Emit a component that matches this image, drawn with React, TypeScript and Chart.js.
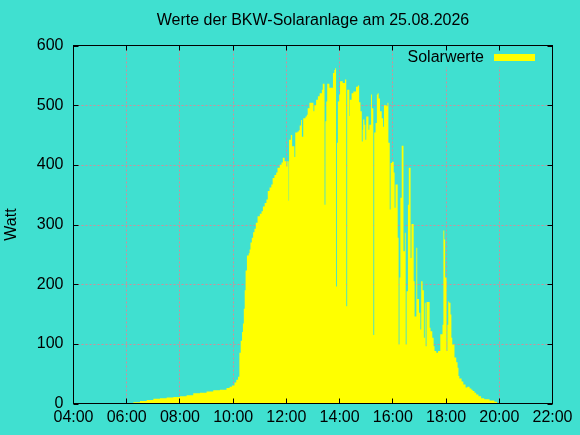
import React, { useEffect, useRef } from 'react';
import { Chart, registerables } from 'chart.js';

Chart.register(...registerables);

const TITLE = 'Werte der BKW-Solaranlage am 25.08.2026';
const SERIES_LABEL = 'Solarwerte';
const Y_AXIS_LABEL = 'Watt';
const X_TICK_LABELS = ['04:00', '06:00', '08:00', '10:00', '12:00', '14:00', '16:00', '18:00', '20:00', '22:00'];
const Y_TICK_LABELS = ['0', '100', '200', '300', '400', '500', '600'];

const TIMES = [
  '06:08', '06:15', '06:30', '06:45', '07:00', '07:15', '07:30', '07:45', '08:00', '08:15',
  '08:30', '08:45', '09:00', '09:15', '09:30', '09:45', '09:52', '09:57', '10:03', '10:07',
  '10:11', '10:14', '10:17', '10:20', '10:22', '10:24', '10:26', '10:28', '10:31', '10:35',
  '10:37', '10:39', '10:42', '10:45', '10:48', '10:51', '10:55', '11:00', '11:04', '11:07',
  '11:11', '11:15', '11:18', '11:22', '11:26', '11:29', '11:33', '11:37', '11:40', '11:45',
  '11:49', '11:52', '11:56', '12:00', '12:02', '12:05', '12:06', '12:10', '12:13', '12:18',
  '12:20', '12:25', '12:28', '12:30', '12:33', '12:35', '12:38', '12:43', '12:46', '12:48',
  '12:52', '13:01', '13:03', '13:07', '13:11', '13:15', '13:20', '13:22', '13:26', '13:28',
  '13:30', '13:32', '13:37', '13:45', '13:48', '13:50', '13:52', '13:54', '13:56', '13:59',
  '14:01', '14:07', '14:12', '14:15', '14:17', '14:22', '14:23', '14:27', '14:31', '14:37',
  '14:41', '14:44', '14:47', '14:50', '14:52', '14:53', '14:56', '14:58', '15:00', '15:05',
  '15:07', '15:11', '15:13', '15:16', '15:18', '15:21', '15:24', '15:26', '15:28', '15:31',
  '15:35', '15:38', '15:40', '15:46', '15:48', '15:50', '15:53', '15:55', '15:58', '16:02',
  '16:04', '16:06', '16:11', '16:13', '16:15', '16:17', '16:20', '16:24', '16:27', '16:29',
  '16:31', '16:34', '16:36', '16:40', '16:42', '16:47', '16:49', '16:53', '16:55', '16:59',
  '17:02', '17:04', '17:07', '17:10', '17:12', '17:14', '17:16', '17:23', '17:25', '17:29',
  '17:32', '17:34', '17:38', '17:42', '17:47', '17:52', '17:54', '17:56', '17:58', '18:01',
  '18:03', '18:05', '18:07', '18:10', '18:12', '18:14', '18:19', '18:23', '18:26', '18:28',
  '18:30', '18:35', '18:39', '18:44', '18:48', '18:53', '18:57', '19:00', '19:04', '19:08',
  '19:13', '19:19', '19:26', '19:38', '19:49', '19:55', '19:58',
];

const WATTS = [
  1, 2, 4, 6, 8, 9, 10, 11, 12, 14,
  17, 18, 20, 22, 23, 26, 28, 30, 35, 40,
  45, 85, 105, 120, 134, 159, 190, 223, 248, 252,
  258, 270, 278, 287, 293, 303, 314, 318, 322, 330,
  336, 342, 356, 362, 367, 378, 383, 387, 395, 400,
  404, 412, 406, 397, 406, 340, 442, 450, 431, 413,
  454, 456, 458, 466, 475, 447, 478, 481, 484, 495,
  504, 490, 500, 509, 515, 520, 526, 536, 333, 473,
  506, 536, 529, 554, 559, 562, 196, 437, 506, 518,
  540, 537, 543, 163, 526, 482, 509, 520, 523, 531,
  533, 505, 490, 439, 459, 476, 467, 442, 481, 459,
  467, 518, 495, 115, 454, 470, 518, 520, 511, 490,
  478, 464, 500, 498, 504, 437, 325, 403, 405, 387,
  328, 367, 278, 99, 211, 345, 432, 255, 286, 99,
  188, 333, 395, 244, 301, 205, 146, 261, 175, 152,
  124, 205, 190, 110, 169, 96, 170, 127, 121, 110,
  96, 88, 85, 88, 116, 132, 290, 275, 211, 88,
  132, 171, 169, 149, 110, 99, 77, 69, 60, 46,
  42, 37, 32, 27, 28, 25, 23, 21, 18, 15,
  12, 9, 7, 5, 3, 1, 0,
];

const BG = '#40E0D0';
const YELLOW = '#FFFF00';
const GRID = '#cf8f99';
const FONT = "'Liberation Sans', Arial, sans-serif";

const X_MIN = 240;
const X_MAX = 1320;

function toMinutes(t: string): number {
  const [h, m] = t.split(':').map(Number);
  return h * 60 + m;
}

const gnuplotFrame = {
  id: 'gnuplotFrame',
  beforeDatasetsDraw(chart: any) {
    const { ctx, chartArea: a, scales } = chart;
    ctx.save();
    // dotted grid
    ctx.strokeStyle = GRID;
    ctx.lineWidth = 1;
    ctx.setLineDash([2, 2]);
    ctx.beginPath();
    scales.x.ticks.forEach((t: any, i: number, arr: any[]) => {
      if (i === 0 || i === arr.length - 1) return;
      const px = Math.floor(scales.x.getPixelForValue(t.value)) + 0.5;
      ctx.moveTo(px, a.top);
      ctx.lineTo(px, a.bottom);
    });
    scales.y.ticks.forEach((t: any, i: number, arr: any[]) => {
      if (i === 0 || i === arr.length - 1) return;
      const py = Math.round(scales.y.getPixelForValue(t.value)) + 0.5;
      ctx.moveTo(a.left, py);
      ctx.lineTo(a.right, py);
    });
    ctx.stroke();
    ctx.setLineDash([]);
    // opaque key area
    ctx.fillStyle = BG;
    ctx.fillRect(a.right - 154, a.top + 0.5, 153.5, 21);
    ctx.restore();
  },
  afterDatasetsDraw(chart: any) {
    const { ctx, chartArea: a, scales } = chart;
    ctx.save();
    // key
    ctx.font = `16px ${FONT}`;
    ctx.fillStyle = '#000';
    ctx.textAlign = 'right';
    ctx.textBaseline = 'alphabetic';
    ctx.fillText(chart.data.datasets[0].label, a.right - 68.5, a.top + 16);
    ctx.fillStyle = YELLOW;
    ctx.fillRect(a.right - 58.5, a.top + 8.5, 41, 7);
    // border
    ctx.strokeStyle = '#000';
    ctx.lineWidth = 1;
    ctx.strokeRect(a.left, a.top, a.right - a.left, a.bottom - a.top);
    // inward ticks on all four sides
    const L = 5;
    ctx.beginPath();
    scales.x.ticks.forEach((t: any) => {
      const px = Math.floor(scales.x.getPixelForValue(t.value)) + 0.5;
      ctx.moveTo(px, a.bottom);
      ctx.lineTo(px, a.bottom - L);
      ctx.moveTo(px, a.top);
      ctx.lineTo(px, a.top + L);
    });
    scales.y.ticks.forEach((t: any) => {
      const py = Math.round(scales.y.getPixelForValue(t.value)) + 0.5;
      ctx.moveTo(a.left, py);
      ctx.lineTo(a.left + L, py);
      ctx.moveTo(a.right, py);
      ctx.lineTo(a.right - L, py);
    });
    ctx.stroke();
    ctx.restore();
  },
};

export default function App() {
  const ref = useRef<HTMLCanvasElement>(null);

  useEffect(() => {
    if (!ref.current) return;
    const points = TIMES.map((t, i) => ({ x: toMinutes(t), y: WATTS[i] }));
    const chart = new Chart(ref.current, {
      type: 'line',
      data: {
        datasets: [
          {
            label: SERIES_LABEL,
            data: points,
            stepped: true,
            fill: 'origin',
            backgroundColor: YELLOW,
            borderColor: 'rgba(0,0,0,0)',
            borderWidth: 0,
            pointRadius: 0,
            tension: 0,
          },
        ],
      },
      options: {
        responsive: false,
        animation: false,
        events: [],
        layout: { padding: { left: 0, right: 27.5, top: 0, bottom: 0 } },
        plugins: {
          legend: { display: false },
          tooltip: { enabled: false },
          title: {
            display: true,
            text: TITLE,
            fullSize: false,
            color: '#000',
            font: { family: FONT, size: 16, weight: 'normal', lineHeight: 1.2 },
            padding: { top: 11, bottom: 15.3 },
          },
        },
        scales: {
          x: {
            type: 'linear',
            min: X_MIN,
            max: X_MAX,
            afterFit: (s: any) => {
              s.height = 31.5;
            },
            grid: { display: false, drawTicks: false },
            border: { display: false },
            ticks: {
              stepSize: 120,
              autoSkip: false,
              maxRotation: 0,
              padding: 4,
              color: '#000',
              font: { family: FONT, size: 16 },
              callback: (v: any) => X_TICK_LABELS[Math.round((Number(v) - X_MIN) / 120)] ?? '',
            },
          },
          y: {
            type: 'linear',
            min: 0,
            max: 600,
            afterFit: (s: any) => {
              s.width = 73.5;
            },
            grid: { display: false, drawTicks: false },
            border: { display: false },
            title: {
              display: true,
              text: Y_AXIS_LABEL,
              color: '#000',
              font: { family: FONT, size: 16, lineHeight: 1.2 },
              padding: { top: 2, bottom: 0 },
            },
            ticks: {
              stepSize: 100,
              padding: 10,
              color: '#000',
              font: { family: FONT, size: 16 },
              callback: (v: any) => Y_TICK_LABELS[Math.round(Number(v) / 100)] ?? '',
            },
          },
        },
      },
      plugins: [gnuplotFrame],
    });
    return () => chart.destroy();
  }, []);

  return (
    <div style={{ position: 'fixed', left: 0, top: 0, width: 580, height: 435, background: BG }}>
      <canvas ref={ref} width={580} height={435} style={{ display: 'block', width: 580, height: 435 }} />
    </div>
  );
}
